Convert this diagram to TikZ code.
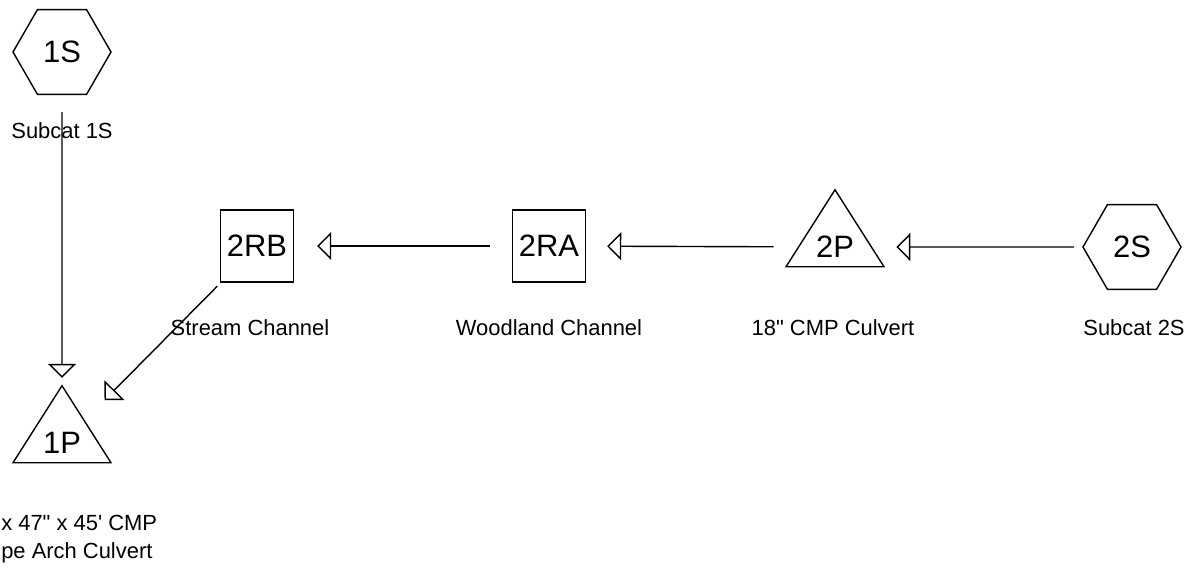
\documentclass[tikz,border=0pt]{standalone}
\usepackage{fontspec}
\setmainfont{Liberation Sans}
\usetikzlibrary{arrows.meta,positioning,shapes.geometric}
\tikzset{
  subcat/.style={regular polygon, regular polygon sides=6, draw, line width=1pt,
                 minimum size=2.45cm, inner sep=0pt, font=\fontsize{22}{26}\selectfont},
  reach/.style={rectangle, draw, line width=1pt, minimum width=1.825cm, minimum height=1.8cm,
                inner sep=0pt, font=\fontsize{22}{26}\selectfont},
  pond/.style={isosceles triangle, isosceles triangle stretches, shape border rotate=90,
               draw, line width=1pt, minimum width=2.45cm, minimum height=1.925cm,
               inner sep=0pt, font=\fontsize{22}{26}\selectfont},
  lbl/.style={inner sep=0pt, font=\fontsize{15.6}{19.9}\selectfont},
  arr/.style={-{Triangle[open, length=0.35cm, width=0.7cm]}, line width=1pt},
}

\begin{document}
\begin{tikzpicture}[x=0.025cm, y=-0.025cm]
  \useasboundingbox (0,0) rectangle (1197,567);
  \node[subcat] (s1) at (62,52) {1S};
  \node[pond] (p1) at (62,443) {1P};
  \node[reach] (rb) at (257,246) {2RB};
  \node[reach] (ra) at (549,246) {2RA};
  \node[pond] (p2) at (835,247) {2P};
  \node[subcat] (s2) at (1132,247) {2S};
  % labels
  \node[lbl, anchor=base] (l1) at (62,138) {Subcat 1S};
  \node[lbl, anchor=base west, align=left] (lp1) at (1,558)
    {x 47\textquotedbl{} x 45\textquotesingle{} CMP\\pe Arch Culvert};
  \node[lbl, anchor=base] (lrb) at (250,335) {Stream Channel};
  \node[lbl, anchor=base] (lra) at (549,335) {Woodland Channel};
  \node[lbl, anchor=base] (lp2) at (833,335) {18\textquotedbl{} CMP Culvert};
  \node[lbl, anchor=base] (ls2) at (1134,335) {Subcat 2S};
  \draw[arr, shorten <=0.425cm, shorten >=0.15cm] (s1) -- (p1);
  \draw[arr, shorten <=0.2cm, shorten >=0.6cm] (s2) -- (p2);
  \draw[arr, shorten <=0.6cm, shorten >=0.525cm] (p2) -- (ra);
  \draw[arr, shorten <=0.55cm, shorten >=0.575cm] (ra) -- (rb);
  \draw[arr, shorten <=0.12cm, shorten >=0.7cm] (rb) -- (p1);
\end{tikzpicture}
\end{document}
